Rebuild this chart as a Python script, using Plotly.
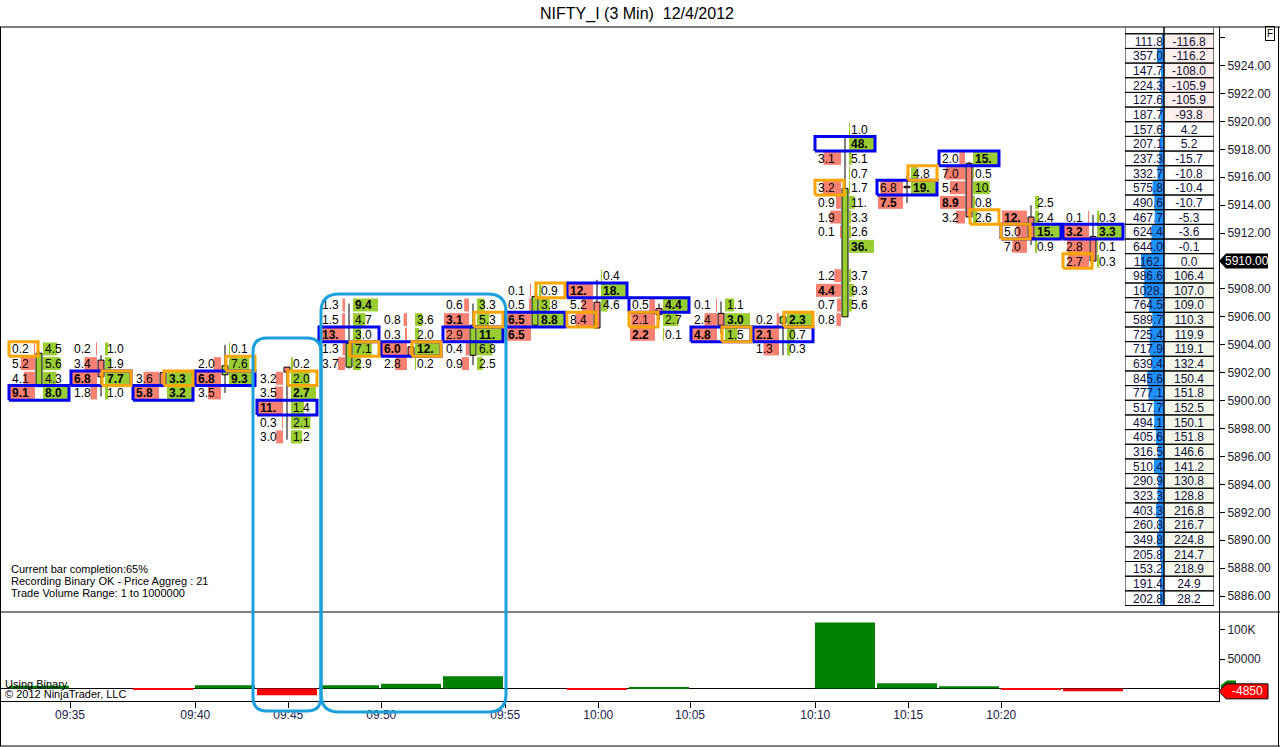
import plotly.graph_objects as go

FONT = "Liberation Sans, Arial, sans-serif"

# NIFTY_I 3 min footprint chart, 12/4/2012
last_price = 5910.00
row_step = 1.05            # price aggregation 21 ticks x 0.05

bar_index = list(range(18))
time_labels = ["09:35", "09:40", "09:45", "09:50", "09:55",
               "10:00", "10:05", "10:10", "10:15", "10:20"]
time_ticks = [0.5, 2.52, 4.02, 5.52, 7.52, 9.02, 10.5, 12.52, 14.02, 15.52]

# candles
bar_open = [5901.00, 5902.90, 5902.00, 5901.85, 5902.40, 5902.40, 5903.85, 5903.25, 5905.40,
            5907.05, 5906.60, 5906.25, 5905.55, 5906.00, 5915.35, 5917.00, 5913.15, 5911.75]
bar_high = [5903.55, 5903.25, 5902.00, 5904.00, 5902.40, 5906.95, 5903.85, 5906.95, 5907.60,
            5908.65, 5906.95, 5907.10, 5906.15, 5919.00, 5916.15, 5917.10, 5914.00, 5913.30]
bar_low = [5901.00, 5900.30, 5901.10, 5900.55, 5897.20, 5902.30, 5903.25, 5902.55, 5905.40,
           5905.20, 5905.75, 5904.80, 5903.25, 5906.00, 5914.15, 5913.15, 5911.15, 5910.00]
bar_close = [5903.40, 5901.70, 5901.10, 5902.50, 5902.05, 5904.10, 5903.25, 5905.40, 5907.45,
             5905.20, 5906.15, 5905.40, 5906.00, 5915.20, 5915.25, 5913.15, 5911.65, 5910.00]

# footprint: top level of each bar (in rows from last price), then bid x ask per level
top_row = [-6, -6, -8, -6, -7, -3, -4, -3, -2, -1, -3, -3, -4, 9, 6, 7, 4, 3]
bid_vol = [
    [0.2, 5.2, 4.1, 9.1],
    [0.2, 3.4, 6.8, 1.8],
    [3.6, 5.8],
    [None, 2.0, 6.8, 3.5],
    [None, 3.2, 3.5, 11, 0.3, 3.0],
    [1.3, 1.5, 13, 1.3, 3.7],
    [0.8, 0.3, 6.0, 2.8],
    [0.6, 3.1, 2.9, 0.4, 0.9],
    [0.1, 0.5, 6.5, 6.5],
    [None, 12, 5.2, 8.4],
    [0.5, 2.1, 2.2],
    [0.1, 2.4, 4.8],
    [0.2, 2.1, 1.3],
    [None, None, 3.1, None, 3.2, 0.9, 1.9, 0.1, None, None, 1.2, 4.4, 0.7, 0.8],
    [None, 6.8, 7.5],
    [2.0, 7.0, 5.4, 8.9, 3.2],
    [None, 12, 5.0, 7.0],
    [0.1, 3.2, 2.8, 2.7],
]
ask_vol = [
    [4.5, 5.6, 4.3, 8.0],
    [1.0, 1.9, 7.7, 1.0],
    [3.3, 3.2],
    [0.1, 7.6, 9.3, None],
    [0.2, 2.0, 2.7, 1.4, 2.1, 1.2],
    [9.4, 4.7, 3.0, 7.1, 2.9],
    [3.6, 2.0, 12, 0.2],
    [3.3, 5.3, 11, 6.8, 2.5],
    [0.9, 3.8, 8.8, None],
    [0.4, 18, 4.6, None],
    [4.4, 2.7, 0.1],
    [1.1, 3.0, 1.5],
    [2.3, 0.7, 0.3],
    [1.0, 48, 5.1, 0.7, 1.7, 11, 3.3, 2.6, 36, None, 3.7, 9.3, 5.6, None],
    [4.8, 19, None],
    [15, 0.5, 10, 0.8, 2.6],
    [2.5, 2.4, 15, 0.9],
    [0.3, 3.3, 0.1, 0.3],
]
extra_bold = [(2, 1, "ask"), (13, 8, "ask")]
poc_level = [3, 2, 1, 2, 3, 2, 2, 2, 2, 1, 0, 2, 1, 1, 1, 0, 2, 1]
orange_cells = [(0, 0, "bid"), (1, 2, "ask"), (2, 0, "ask"), (3, 1, "ask"), (4, 1, "ask"),
                (5, 3, "ask"), (6, 2, "ask"), (7, 1, "ask"), (8, 0, "ask"), (9, 3, "bid"),
                (10, 1, "bid"), (11, 2, "ask"), (12, 0, "ask"), (13, 4, "bid"), (14, 0, "ask"),
                (15, 4, "ask"), (16, 2, "bid"), (17, 3, "bid")]

# delta volume panel
delta_volume = [4600, 0, -2200, 5600, -11400, 5600, 8000, 21000, 0,
                -2200, 2200, 0, 0, 112000, 9000, 3900, -2200, -4850]

# price ladder on the right (rows from last price)
ladder_top = 15
ladder_volume = [111.8, 357.0, 147.7, 224.3, 127.6, 187.7, 157.6, 207.1, 237.3, 332.7,
                 575.8, 490.6, 467.7, 624.4, 644.0, 1162, 986.6, 1028, 764.5, 589.7,
                 725.4, 717.9, 639.4, 845.6, 777.1, 517.7, 494.1, 405.6, 316.5, 510.4,
                 290.9, 323.3, 403.3, 260.8, 349.8, 205.8, 153.2, 191.4, 202.8]
ladder_delta = [-116.8, -116.2, -108.0, -105.9, -105.9, -93.8, 4.2, 5.2, -15.7, -10.8,
                -10.4, -10.7, -5.3, -3.6, -0.1, 0.0, 106.4, 107.0, 109.0, 110.3,
                119.9, 119.1, 132.4, 150.4, 151.8, 152.5, 150.1, 151.8, 146.6, 141.2,
                130.8, 128.8, 216.8, 216.7, 224.8, 214.7, 218.9, 24.9, 28.2]

price_ticks = [5886 + 2 * k for k in range(21)]

# ---- geometry
plot_w, plot_h = 1219, 674
x_min = -39 / 62
x_max = x_min + plot_w / 62
ppx = plot_w / (x_max - x_min)
y_range = [5884.86, 5926.76]
ppy = 585 / (y_range[1] - y_range[0])
split = 89 / plot_h
text_dy = 1.5 / ppy


def dx(px):
    return px / ppx


def P(px):
    return px / plot_w


def Q(py):
    return (701 - py) / plot_h


def level_price(i, j):
    return last_price + row_step * (top_row[i] - j)


def fmt(v):
    return f"{int(v)}." if v >= 10 else f"{v:.1f}"


GREEN, SALMON = "#9ACD32", "#FA8072"
full = 25
half = row_step / 2

data = []

# footprint colour bars + text
bars = {"bid": ([], [], []), "ask": ([], [], [])}
texts = {"bid": ([], [], []), "ask": ([], [], [])}
for i in bar_index:
    for side, vols in (("bid", bid_vol[i]), ("ask", ask_vol[i])):
        vmax = max(v for v in vols if v is not None)
        for j, v in enumerate(vols):
            if v is None:
                continue
            p = level_price(i, j)
            bold = v == vmax or (i, j, side) in extra_bold
            ln = dx(full if bold else full * v / vmax)
            by, bx, bb = bars[side]
            by.append(p)
            bx.append(ln)
            bb.append(i - dx(4) - ln if side == "bid" else i + dx(4))
            tx, ty, tt = texts[side]
            tx.append(i - dx(27) if side == "bid" else i + dx(6))
            ty.append(p - text_dy)
            tt.append(f"<b>{fmt(v)}</b>" if bold else fmt(v))

for side, col in (("bid", SALMON), ("ask", GREEN)):
    by, bx, bb = bars[side]
    data.append(go.Bar(orientation="h", y=by, x=bx, base=bb, width=0.93,
                       marker=dict(color=col, line=dict(width=0)), hoverinfo="skip"))

# candles: wicks then bodies
wx, wy = [], []
bodies = {"up": ([], []), "dn": ([], [])}
for i in bar_index:
    o, h, l, c = bar_open[i], bar_high[i], bar_low[i], bar_close[i]
    top, bot = max(o, c), min(o, c)
    wx += [i, i, None, i, i, None]
    wy += [h, top, None, bot, l, None]
    key = "up" if c > o else "dn"
    if top - bot < 0.1:
        top, bot = top + 0.05, bot - 0.05
    w = dx(3)
    bodies[key][0].extend([i - w, i + w, i + w, i - w, i - w, None])
    bodies[key][1].extend([bot, bot, top, top, bot, None])
data.append(go.Scatter(x=wx, y=wy, mode="lines", line=dict(color="black", width=1),
                       hoverinfo="skip"))
for key, col in (("up", GREEN), ("dn", SALMON)):
    data.append(go.Scatter(x=bodies[key][0], y=bodies[key][1], mode="lines", fill="toself",
                           fillcolor=col, line=dict(color="black", width=1), hoverinfo="skip"))


def rect(x0, x1, p):
    return [x0, x1, x1, x0, x0, None], [p - half, p - half, p + half, p + half, p - half, None]


bxs, bys = [], []
for i in bar_index:
    rx, ry = rect(i - dx(30), i + dx(30), level_price(i, poc_level[i]))
    bxs += rx
    bys += ry
data.append(go.Scatter(x=bxs, y=bys, mode="lines", line=dict(color="#0000F0", width=3),
                       hoverinfo="skip"))
oxs, oys = [], []
for i, j, side in orange_cells:
    if side == "bid":
        rx, ry = rect(i - dx(30), i - dx(1), level_price(i, j))
    else:
        rx, ry = rect(i + dx(1), i + dx(30), level_price(i, j))
    oxs += rx
    oys += ry
data.append(go.Scatter(x=oxs, y=oys, mode="lines", line=dict(color="#FFA500", width=3),
                       hoverinfo="skip"))

for side in ("bid", "ask"):
    tx, ty, tt = texts[side]
    data.append(go.Scatter(x=tx, y=ty, text=tt, mode="text", textposition="middle right",
                           textfont=dict(family=FONT, size=12, color="black"),
                           hoverinfo="skip"))

# delta volume histogram
data.append(go.Bar(x=bar_index, y=delta_volume, width=dx(60), xaxis="x", yaxis="y2",
                   marker=dict(color=["#008000" if v >= 0 else "#FF0000" for v in delta_volume],
                               line=dict(width=0)), hoverinfo="skip"))

# price ladder
lad_p = [last_price + row_step * (ladder_top - k) for k in range(len(ladder_volume))]
vmax = max(ladder_volume)
bg = ["#FCEFEC" if d <= -50 else ("#F3F8EA" if d >= 50 else "white") for d in ladder_delta]
data.append(go.Bar(orientation="h", y=lad_p, x=[50] * len(lad_p), base=39, width=row_step,
                   marker=dict(color=bg, line=dict(width=0)), xaxis="x3", yaxis="y",
                   hoverinfo="skip"))
blue_len = [23 * v / vmax for v in ladder_volume]
data.append(go.Bar(orientation="h", y=lad_p, x=blue_len, base=[39 - b for b in blue_len],
                   width=row_step, marker=dict(color="#1E90FF", line=dict(width=0)),
                   xaxis="x3", yaxis="y", hoverinfo="skip"))
grid_p = lad_p + [last_price + row_step * (ladder_top + 1)]
for base, wid in ((0, 39), (39, 50)):
    data.append(go.Bar(orientation="h", y=grid_p, x=[wid] * len(grid_p), base=base,
                       width=row_step, marker=dict(color="rgba(0,0,0,0)",
                                                   line=dict(color="black", width=1)),
                       xaxis="x3", yaxis="y", hoverinfo="skip"))
lad_ty = [p - text_dy for p in lad_p]
data.append(go.Scatter(x=[38] * len(lad_p), y=lad_ty, mode="text", textposition="middle left",
                       text=[f"{int(v)}." if v >= 1000 else f"{v:.1f}" for v in ladder_volume],
                       textfont=dict(family=FONT, size=12, color="#10103A"),
                       xaxis="x3", yaxis="y", hoverinfo="skip"))
data.append(go.Scatter(x=[64] * len(lad_p), y=lad_ty, mode="text", textposition="middle center",
                       text=[f"{d:.1f}" for d in ladder_delta],
                       textfont=dict(family=FONT, size=12, color="#10103A"),
                       xaxis="x3", yaxis="y", hoverinfo="skip"))


def rounded_box(x0, y0, x1, y1, r):
    pts = [("M", x0 + r, y0), ("L", x1 - r, y0), ("Q", x1, y0), (None, x1, y0 + r),
           ("L", x1, y1 - r), ("Q", x1, y1), (None, x1 - r, y1), ("L", x0 + r, y1),
           ("Q", x0, y1), (None, x0, y1 - r), ("L", x0, y0 + r), ("Q", x0, y0),
           (None, x0 + r, y0)]
    s = ""
    for cmd, x, y in pts:
        s += (cmd + " " if cmd else " ") + f"{P(x):.5f},{Q(y):.5f} "
    return s + "Z"


vol_last = delta_volume[-1]
line_k = dict(color="black", width=1)
shapes = [
    dict(type="line", xref="paper", yref="paper", x0=P(0), x1=P(1280), y0=Q(27), y1=Q(27), line=line_k),
    dict(type="line", xref="paper", yref="paper", x0=P(0), x1=P(1280), y0=Q(612), y1=Q(612), line=line_k),
    dict(type="line", xref="paper", yref="paper", x0=P(0), x1=P(1280), y0=Q(746), y1=Q(746), line=line_k),
    dict(type="line", xref="paper", yref="paper", x0=P(0.5), x1=P(0.5), y0=Q(27), y1=Q(746), line=line_k),
    dict(type="line", xref="paper", yref="paper", x0=P(1278.5), x1=P(1278.5), y0=Q(27), y1=Q(746), line=line_k),
    dict(type="path", xref="paper", yref="paper", path=rounded_box(253, 338, 321, 711, 14),
         line=dict(color="#1AA0DC", width=3)),
    dict(type="path", xref="paper", yref="paper", path=rounded_box(321, 294, 506, 712, 18),
         line=dict(color="#1AA0DC", width=3)),
    dict(type="path", xref="paper", yref="y", fillcolor="black", line=dict(width=0),
         path=f"M {P(1219)},{last_price} L {P(1226)},{last_price + 0.54} L {P(1268)},{last_price + 0.54} "
              f"L {P(1268)},{last_price - 0.54} L {P(1226)},{last_price - 0.54} Z"),
    dict(type="path", xref="paper", yref="y2", fillcolor="#008000", line=dict(width=0),
         path=f"M {P(1221)},6000 L {P(1227)},13500 L {P(1236)},13500 L {P(1236)},0 L {P(1221)},0 Z"),
    dict(type="path", xref="paper", yref="y2", fillcolor="#FF0000", line=dict(color="black", width=1),
         path=f"M {P(1219)},{vol_last} L {P(1226)},{vol_last + 12750} "
              f"L {P(1268)},{vol_last + 12750} L {P(1268)},{vol_last - 12750} "
              f"L {P(1226)},{vol_last - 12750} Z"),
]

small = dict(family=FONT, size=11, color="black")


def note(x, y, text, **kw):
    d = dict(xref="paper", yref="paper", x=P(x), y=Q(y), text=text, showarrow=False,
             xanchor="left", yanchor="middle", font=small)
    d.update(kw)
    return d


annotations = [
    dict(xref="paper", yref="y", x=P(1247), y=last_price, text=f"{last_price:.2f}",
         xanchor="center", yanchor="middle", showarrow=False,
         font=dict(family=FONT, size=12, color="white")),
    dict(xref="paper", yref="y2", x=P(1247), y=vol_last, text=str(vol_last),
         xanchor="center", yanchor="middle", showarrow=False,
         font=dict(family=FONT, size=12, color="white")),
    note(1270, 34, "F", xanchor="center", font=dict(family=FONT, size=10, color="black"),
         bordercolor="black", borderwidth=1, borderpad=1),
    note(9, 569, "Current bar completion:65%"),
    note(9, 581, "Recording Binary OK - Price Aggreg : 21"),
    note(9, 593, "Trade Volume Range: 1 to 1000000"),
    note(3, 684, "Using Binary"),
    note(3, 694, "\u00a9 2012 NinjaTrader, LLC"),
]

layout = dict(
    title=dict(text="NIFTY_I (3 Min)  12/4/2012", x=637 / 1280, y=1 - 13 / 747,
               xanchor="center", yanchor="middle",
               font=dict(family="Liberation Sans Narrow, Liberation Sans, Arial", size=16,
                         color="black")),
    width=1280, height=747,
    margin=dict(l=0, r=61, t=27, b=46, pad=0),
    paper_bgcolor="white", plot_bgcolor="white",
    showlegend=False, barmode="overlay",
    font=dict(family=FONT, size=12, color="black"),
    xaxis=dict(range=[x_min, x_max], domain=[0, 1], anchor="y2", tickvals=time_ticks,
               ticktext=time_labels, ticks="outside", ticklen=6, tickcolor="black",
               ticklabelstandoff=-3,
               showline=True, linecolor="black", showgrid=False, zeroline=False,
               tickfont=dict(family=FONT, size=12, color="#22224A")),
    yaxis=dict(domain=[split, 1], range=y_range, side="right", anchor="x",
               tickvals=price_ticks,
               ticktext=["" if t in (5926, last_price) else f"{t:.2f}" for t in price_ticks],
               ticks="outside", ticklen=5, tickcolor="black", showline=True,
               linecolor="black", showgrid=False, zeroline=False,
               tickfont=dict(family=FONT, size=12, color="#1A1A2E")),
    yaxis2=dict(domain=[0, split], range=[-21250, 130050], side="right", anchor="x",
                tickvals=[50000, 100000], ticktext=["50000", "100K"], ticks="outside",
                ticklen=5, tickcolor="black", showline=True, linecolor="black",
                showgrid=False, zeroline=True, zerolinecolor="black", zerolinewidth=1,
                tickfont=dict(family=FONT, size=12, color="#1A1A2E")),
    xaxis3=dict(domain=[1125 / plot_w, 1214 / plot_w], range=[0, 89], anchor="y",
                visible=False, fixedrange=True),
    shapes=shapes,
    annotations=annotations,
)

fig = go.Figure(data=data, layout=layout)
fig.write_html("out.html", config={"displayModeBar": False},
               post_script="document.body.style.margin='0px';")
